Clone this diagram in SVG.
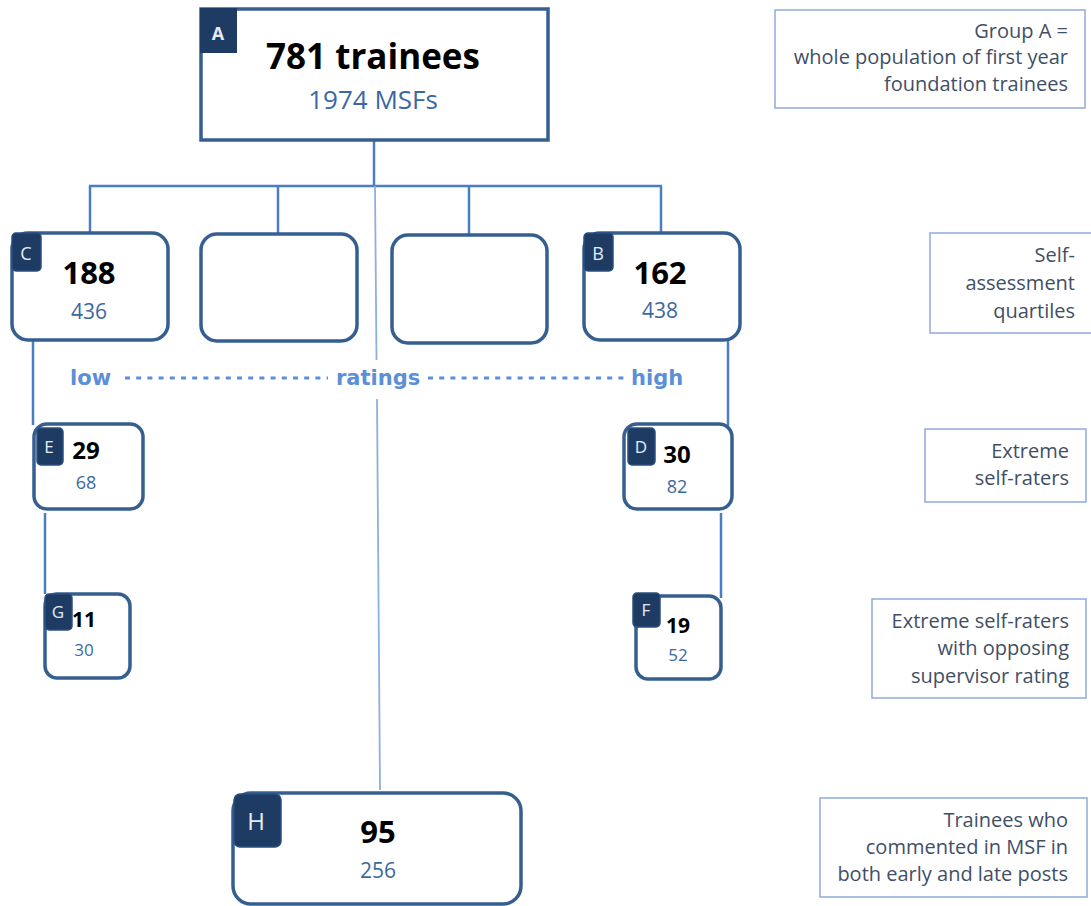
<svg xmlns="http://www.w3.org/2000/svg" width="1091" height="906" viewBox="0 0 1091 906">
<style>
.node{fill:#fff;stroke:#355F91;stroke-width:3.5}
.tag{fill:#1E3B64;stroke:#2A4F7E;stroke-width:1.5}
.tagt{fill:#E6ECF5;font-family:'Open Sans','Liberation Sans',sans-serif;text-anchor:middle}
.big{fill:#000;font-family:'Open Sans','Liberation Sans',sans-serif;font-weight:bold;text-anchor:middle}
.sub{fill:#3B68A1;font-family:'Open Sans','Liberation Sans',sans-serif;text-anchor:middle}
.note{fill:#fff;stroke:#8EAADB;stroke-width:1.5}
.nt{fill:#3F4F66;font-family:'Open Sans','Liberation Sans',sans-serif;font-size:20px;text-anchor:end}
.con{stroke:#4A7EC2;stroke-width:2.5;fill:none}
.thin{stroke:#8DB0E0;stroke-width:1.8;fill:none}
.rate{fill:#5B8FD8;font-family:'DejaVu Sans','Liberation Sans',sans-serif;font-weight:bold;font-size:21px}
.dots{stroke:#5B8FD8;stroke-width:3;stroke-dasharray:5 6.2}
</style>
<g id="connectors">
  <line class="con" x1="374" y1="140" x2="374" y2="186" stroke-width="3"/>
  <line class="con" x1="89" y1="186" x2="662" y2="186"/>
  <line class="con" x1="90" y1="186" x2="90" y2="233"/>
  <line class="con" x1="278" y1="186" x2="278" y2="233"/>
  <line class="con" x1="469" y1="186" x2="469" y2="235"/>
  <line class="con" x1="661" y1="186" x2="661" y2="233"/>
  <line class="thin" x1="375" y1="186" x2="376.5" y2="360"/>
  <line class="thin" x1="377" y1="399" x2="380" y2="790"/>
  <line class="con" x1="33" y1="341" x2="33" y2="425"/>
  <line class="con" x1="728" y1="341" x2="728" y2="426"/>
  <line class="con" x1="45" y1="513" x2="45" y2="594"/>
  <line class="con" x1="721" y1="513" x2="721" y2="598"/>
</g>
<g id="scale">
  <text class="rate" x="70" y="385">low</text>
  <line class="dots" x1="125" y1="378" x2="328" y2="378"/>
  <text class="rate" x="336" y="385">ratings</text>
  <line class="dots" x1="428" y1="378" x2="626" y2="378"/>
  <text class="rate" x="631" y="385">high</text>
</g>
<g id="nodeA">
  <rect class="node" x="201" y="9" width="347" height="131" fill="#fff"/>
  <rect x="200" y="8" width="37" height="45" fill="#1E3B64"/>
  <text class="tagt" x="218" y="40" font-size="18" font-weight="bold">A</text>
  <text class="big" x="373" y="69" font-size="35">781 trainees</text>
  <text class="sub" x="373" y="109" font-size="26">1974 MSFs</text>
</g>
<g id="nodeC">
  <rect class="node" x="12" y="233" width="156" height="107" rx="16"/>
  <rect class="tag" x="12" y="233" width="29" height="38" rx="4"/>
  <text class="tagt" x="26" y="260" font-size="18">C</text>
  <text class="big" x="89" y="284" font-size="31">188</text>
  <text class="sub" x="89" y="319" font-size="21">436</text>
</g>
<g id="nodeQ2">
  <rect class="node" x="201" y="234" width="156" height="107" rx="16"/>
</g>
<g id="nodeQ3">
  <rect class="node" x="392" y="235" width="155" height="108" rx="16"/>
</g>
<g id="nodeB">
  <rect class="node" x="584" y="233" width="156" height="107" rx="16"/>
  <rect class="tag" x="584" y="233" width="29" height="38" rx="4"/>
  <text class="tagt" x="598" y="260" font-size="18">B</text>
  <text class="big" x="660" y="284" font-size="31">162</text>
  <text class="sub" x="660" y="318" font-size="21">438</text>
</g>
<g id="nodeE">
  <rect class="node" x="34" y="424" width="109" height="85" rx="13"/>
  <rect class="tag" x="37" y="428" width="26" height="37" rx="4"/>
  <text class="tagt" x="49" y="453" font-size="17">E</text>
  <text class="big" x="86" y="459" font-size="24">29</text>
  <text class="sub" x="86" y="489" font-size="18">68</text>
</g>
<g id="nodeD">
  <rect class="node" x="624" y="424" width="108" height="85" rx="13"/>
  <rect class="tag" x="628" y="428" width="27" height="37" rx="4"/>
  <text class="tagt" x="641" y="453" font-size="17">D</text>
  <text class="big" x="677" y="463" font-size="24">30</text>
  <text class="sub" x="677" y="493" font-size="18">82</text>
</g>
<g id="nodeG">
  <rect class="node" x="45" y="594" width="85" height="84" rx="12"/>
  <rect class="tag" x="45" y="594" width="27" height="36" rx="4"/>
  <text class="tagt" x="58" y="618" font-size="17">G</text>
  <text class="big" x="84" y="627" font-size="21">11</text>
  <text class="sub" x="84" y="656" font-size="17">30</text>
</g>
<g id="nodeF">
  <rect class="node" x="636" y="596" width="85" height="83" rx="12"/>
  <rect class="tag" x="633" y="593" width="27" height="34" rx="4"/>
  <text class="tagt" x="646" y="616" font-size="17">F</text>
  <text class="big" x="678" y="633" font-size="21">19</text>
  <text class="sub" x="678" y="661" font-size="17">52</text>
</g>
<g id="nodeH">
  <rect class="node" x="233" y="793" width="288" height="111" rx="18"/>
  <rect class="tag" x="234" y="794" width="47" height="53" rx="6"/>
  <text class="tagt" x="256" y="830" font-size="24">H</text>
  <text class="big" x="378" y="843" font-size="31">95</text>
  <text class="sub" x="378" y="878" font-size="21">256</text>
</g>
<g id="noteA">
  <rect class="note" x="775" y="10" width="310" height="98"/>
  <text class="nt" x="1068" y="38">Group A =</text>
  <text class="nt" x="1068" y="64">whole population of first year</text>
  <text class="nt" x="1068" y="91">foundation trainees</text>
</g>
<g id="noteQ">
  <rect class="note" x="930" y="233" width="165" height="100"/>
  <text class="nt" x="1075" y="262">Self-</text>
  <text class="nt" x="1075" y="290">assessment</text>
  <text class="nt" x="1075" y="318">quartiles</text>
</g>
<g id="noteE">
  <rect class="note" x="925" y="429" width="161" height="73"/>
  <text class="nt" x="1069" y="458">Extreme</text>
  <text class="nt" x="1069" y="485">self-raters</text>
</g>
<g id="noteF">
  <rect class="note" x="872" y="599" width="214" height="99"/>
  <text class="nt" x="1069" y="628">Extreme self-raters</text>
  <text class="nt" x="1069" y="655">with opposing</text>
  <text class="nt" x="1069" y="683">supervisor rating</text>
</g>
<g id="noteH">
  <rect class="note" x="820" y="798" width="267" height="99"/>
  <text class="nt" x="1068" y="827">Trainees who</text>
  <text class="nt" x="1068" y="854">commented in MSF in</text>
  <text class="nt" x="1068" y="881">both early and late posts</text>
</g>
</svg>
